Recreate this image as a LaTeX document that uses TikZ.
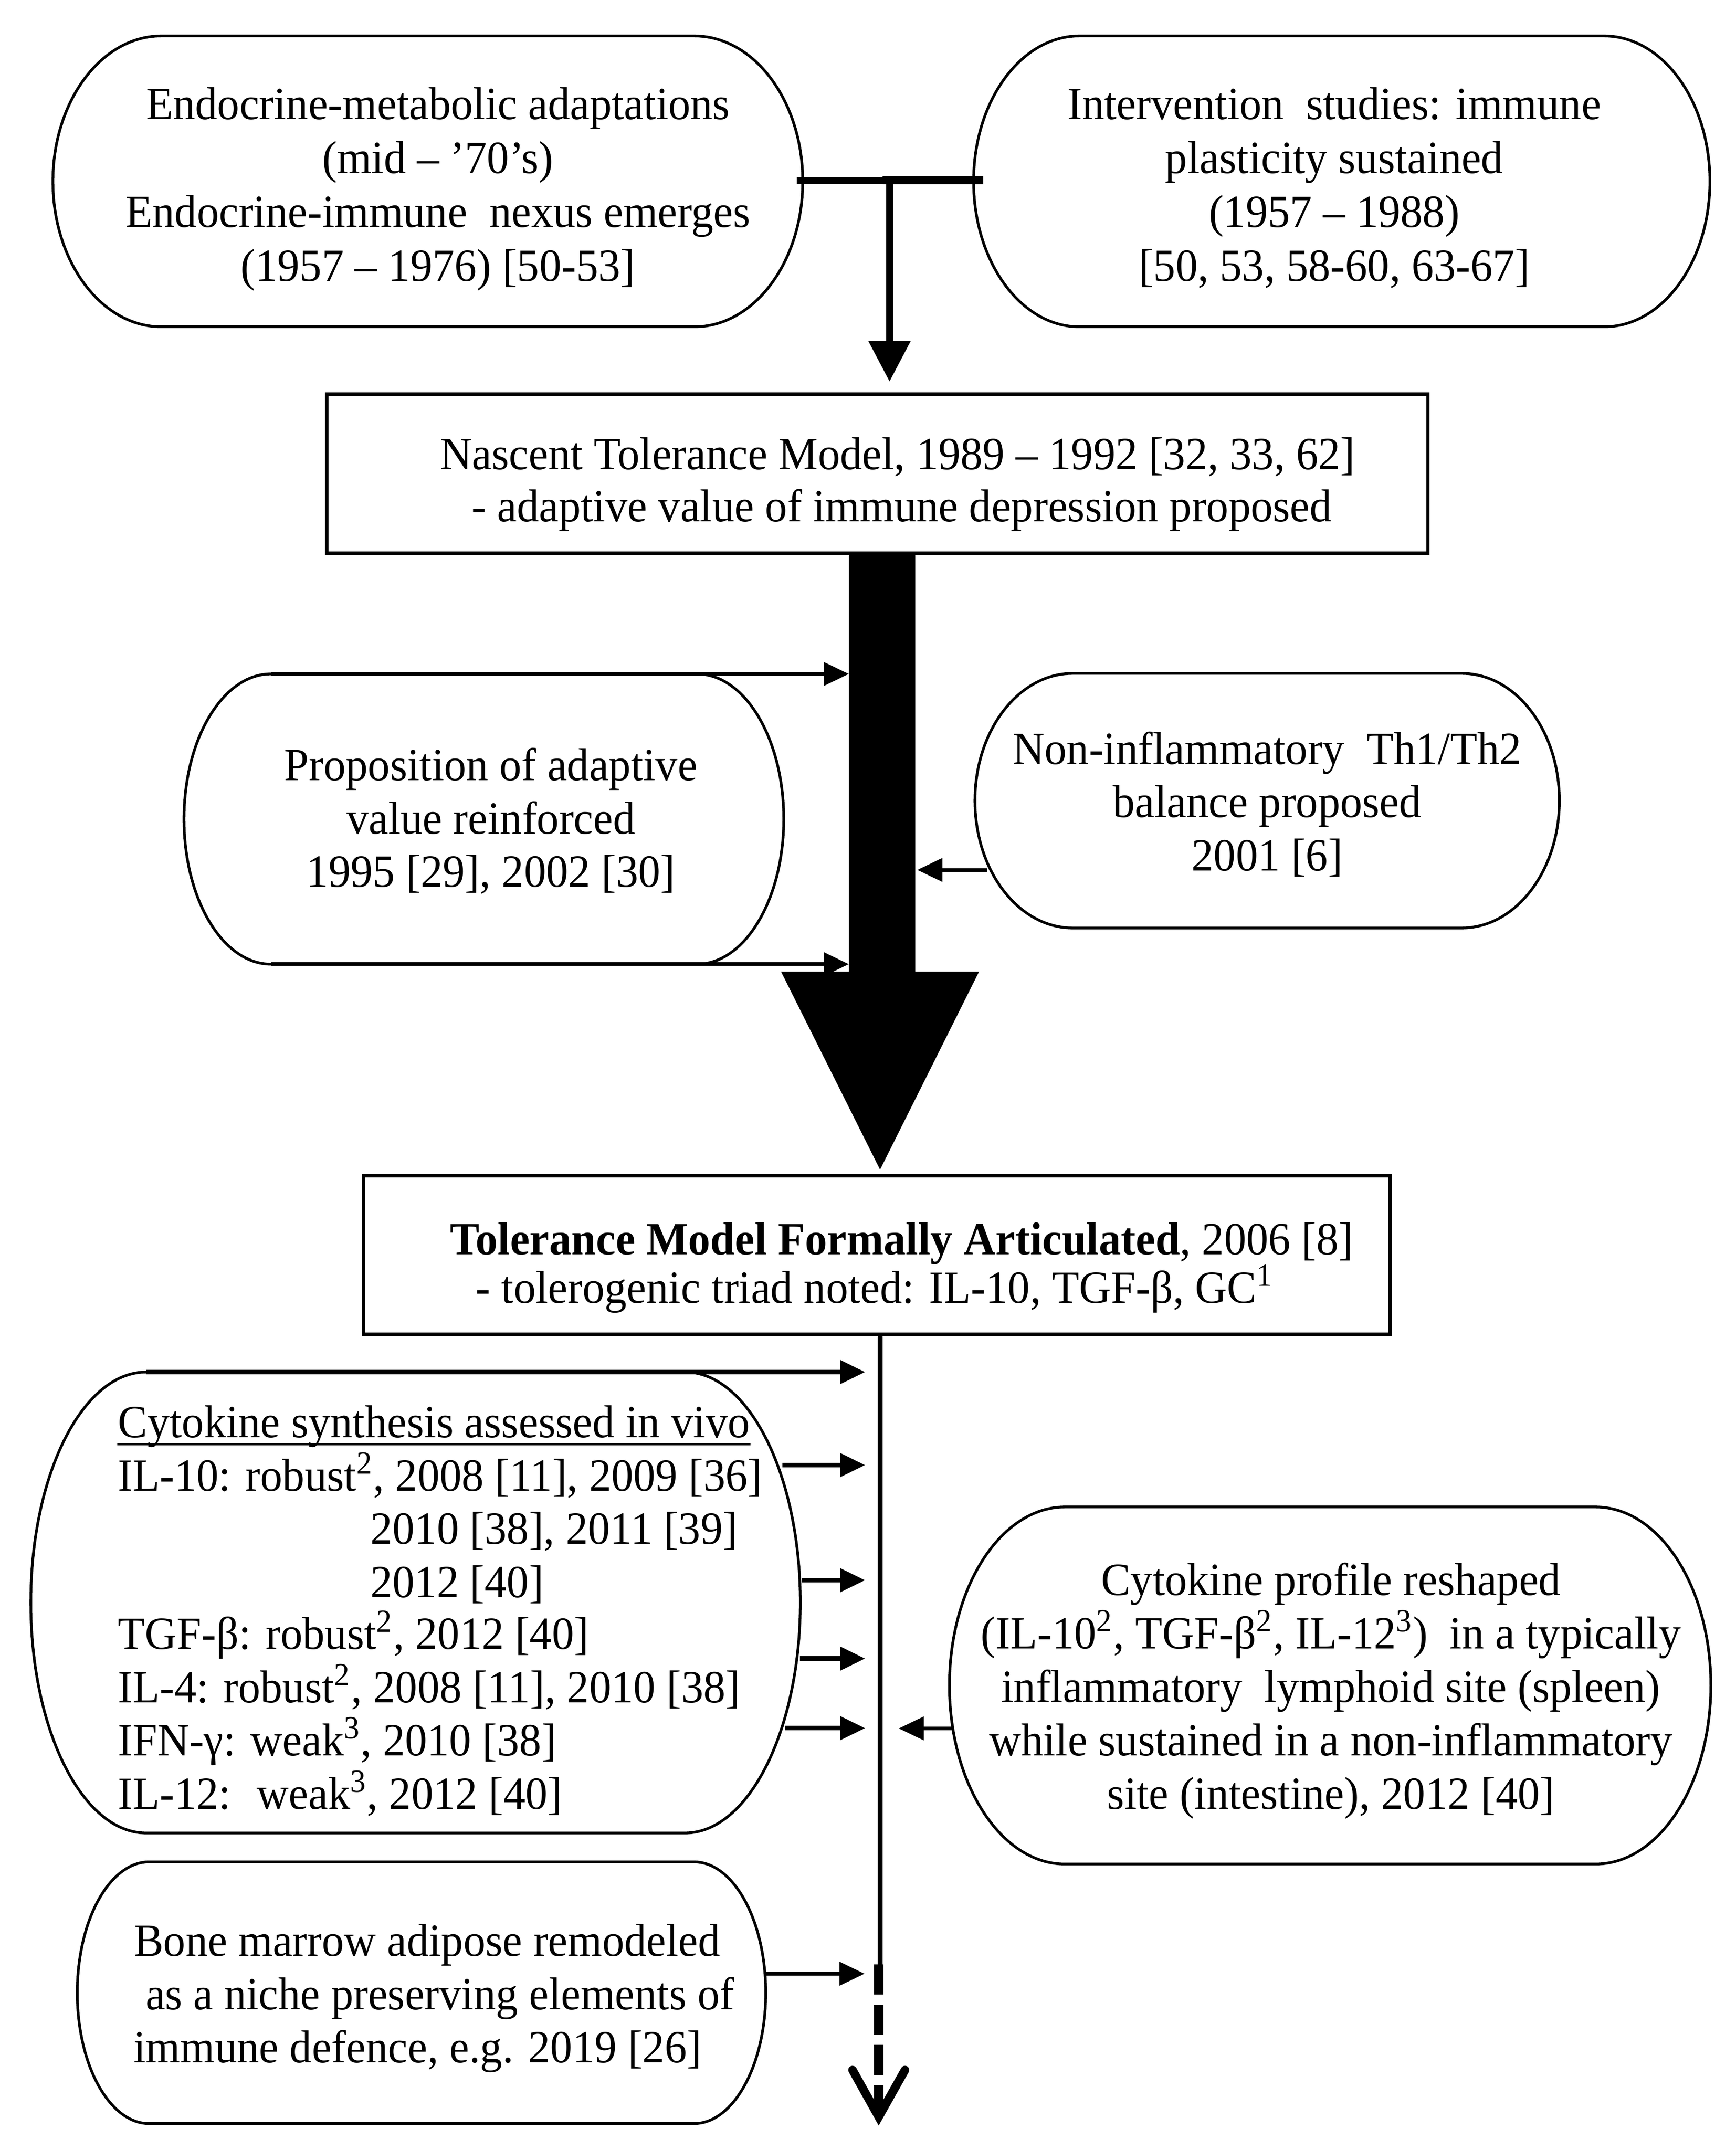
\documentclass[tikz,border=0pt]{standalone}
\usepackage{fontspec}
\setmainfont{Liberation Serif}[FakeStretch=0.96]
\usetikzlibrary{arrows.meta}
\newcommand\fs{\fontsize{17}{19.65}\selectfont}
% barrel-shaped box: name, x0, y0, x1, y1, r
\newcommand\barrelshape[6]{%
  \pgfmathsetmacro\bxa{#2+#6}%
  \pgfmathsetmacro\bxb{#4-#6}%
  \pgfmathsetmacro\bry{(#5-#3)/2}%
  \draw[boxline] (\bxa,#3) -- (\bxb,#3)
     arc[start angle=-90, end angle=90, x radius=#6, y radius=\bry]
     -- (\bxa,#5)
     arc[start angle=90, end angle=270, x radius=#6, y radius=\bry] -- cycle;
  \coordinate (#1-tl) at (\bxa,#3);
  \coordinate (#1-bl) at (\bxa,#5);
}
\tikzset{
  boxline/.style={line width=1pt},
  rectbox/.style={draw, line width=1.25pt, inner sep=0pt},
  txt/.style={anchor=base, inner sep=0pt, font=\fs},
  ltxt/.style={anchor=base west, inner sep=0pt, font=\fs},
  thinarrow/.style={line width=1.3pt, -{Triangle[length=9.25pt,width=8.5pt]}},
  cytarrow/.style={line width=1.7pt, -{Triangle[length=9.25pt,width=8.5pt]}},
}
\begin{document}
\begin{tikzpicture}[x=0.5pt, y=-0.5pt]
\fill[white] (0,0) rectangle (1280,1585.5);
\useasboundingbox (0,0) rectangle (1280,1585.5);

% ---------- top boxes ----------
\barrelshape{tl}{39}{26.5}{592}{241}{80}
\barrelshape{tr}{718}{26.5}{1261}{241}{78}
\node[txt] (tl1) at (323,88) {Endocrine-metabolic adaptations};
\node[txt] (tl2) at (323,127.8) {(mid – ’70’s)};
\node[txt] (tl3) at (323,167.6) {Endocrine-immune~ nexus emerges};
\node[txt] (tl4) at (323,207.4) {(1957 – 1976) [50-53]};
\node[txt] (tr1) at (984,88) {Intervention~ studies: immune};
\node[txt] (tr2) at (984,127.8) {plasticity sustained};
\node[txt] (tr3) at (984,167.6) {(1957 – 1988)};
\node[txt] (tr4) at (984,207.4) {[50, 53, 58-60, 63-67]};

% junction
\coordinate (jl) at (587.5,133);
\coordinate (jm) at (656,133);
\coordinate (jr) at (725,133);
\coordinate (nascin) at (656,281.4);
\draw[line width=2.5pt] (jl) -- (jm);
\draw[line width=3pt] ([xshift=-2.5pt]jm) -- (jr);
\draw[line width=2.4pt, -{Triangle[length=15pt,width=15pt]}] (jm) -- (nascin);

% ---------- nascent box ----------
\node[rectbox, minimum width=406pt, minimum height=58.7pt] (nascent) at (647,349.3) {};
\node[txt] (n1) at (662,346) {Nascent Tolerance Model, 1989 – 1992 [32, 33, 62]};
\node[txt] (n2) at (665,384.5) {- adaptive value of immune depression proposed};

% ---------- thick arrow ----------
\fill (626,408) -- (675,408) -- (675,716.5) -- (722,716.5) -- (649,862.5)
      -- (576,716.5) -- (626,716.5) -- cycle;
\coordinate (shaftA) at (626,497);
\coordinate (shaftB) at (626,711);
\coordinate (shaftC) at (676.5,641.5);

% ---------- proposition box ----------
\barrelshape{prop}{135.7}{497}{578}{711}{64}
\node[txt] (p1) at (362,575.5) {Proposition of adaptive};
\node[txt] (p2) at (362,614.8) {value reinforced};
\node[txt] (p3) at (362,654) {1995 [29], 2002 [30]};
\draw[thinarrow] (prop-tl) -- (shaftA);
\draw[thinarrow] (prop-bl) -- (shaftB);

% ---------- non-inflammatory box ----------
\barrelshape{noninf}{719}{496.6}{1150}{684.3}{72}
\node[txt] (ni1) at (934.5,563.5) {Non-inflammatory~ Th1/Th2};
\node[txt] (ni2) at (934.5,602.8) {balance proposed};
\node[txt] (ni3) at (934.5,642.1) {2001 [6]};
\coordinate (niout) at (728,641.5);
\draw[thinarrow] (niout) -- (shaftC);

% ---------- tolerance box ----------
\node[rectbox, minimum width=378.5pt, minimum height=58.5pt] (tol) at (646.5,925.5) {};
\node[txt] (t1) at (665,925) {\textbf{Tolerance Model Formally Articulated}, 2006 [8]};
\node[txt] (t2) at (645,961) {- tolerogenic triad noted: IL-10, TGF-β, GC\textsuperscript{1}};

% main line
\coordinate (tolout) at (649,984);
\coordinate (dashstart) at (649,1448.6);
\coordinate (dashA) at (648,1448.6);
\coordinate (dashB) at (648,1556);
\coordinate (vl) at (628.7,1526.5);
\coordinate (vtip) at (648,1561);
\coordinate (vr) at (667.4,1526.5);
\draw[line width=1.9pt] (tolout) -- (dashstart);
\draw[line width=3.5pt, dash pattern=on 11.1pt off 3.75pt] (dashA) -- (dashB);
\draw[line width=3.15pt, line cap=round, line join=miter] (vl) -- (vtip) -- (vr);

% ---------- cytokine synthesis box ----------
\barrelshape{cyt}{22.7}{1011.8}{590.2}{1351.7}{85}
\node[ltxt] (cythead) at (86.6,1060) {Cytokine synthesis assessed in vivo};
\draw[line width=0.75pt] ([yshift=-2.5pt]cythead.base west) -- ([yshift=-2.5pt]cythead.base east);
\node[ltxt] (c1) at (86.6,1099.3) {IL-10: robust\textsuperscript{2}, 2008 [11], 2009 [36]};
\node[ltxt] (c2) at (272.8,1138.7) {2010 [38], 2011 [39]};
\node[ltxt] (c3) at (272.8,1178) {2012 [40]};
\node[ltxt] (c4) at (86.6,1216) {TGF-β: robust\textsuperscript{2}, 2012 [40]};
\node[ltxt] (c5) at (86.6,1255.4) {IL-4: robust\textsuperscript{2}, 2008 [11], 2010 [38]};
\node[ltxt] (c6) at (86.6,1294.6) {IFN-γ: weak\textsuperscript{3}, 2010 [38]};
\node[ltxt] (c7) at (86.6,1334) {IL-12:~ weak\textsuperscript{3}, 2012 [40]};
\coordinate (ca2) at (577,1080.4);
\coordinate (ca3) at (591.4,1165.3);
\coordinate (ca4) at (590,1223.1);
\coordinate (ca5) at (579,1274.4);
\coordinate (la1) at (638,1011.8);
\coordinate (la2) at (638,1080.4);
\coordinate (la3) at (638,1165.3);
\coordinate (la4) at (638,1223.1);
\coordinate (la5) at (638,1274.4);
\draw[cytarrow] (cyt-tl) -- (la1);
\draw[cytarrow] (ca2) -- (la2);
\draw[cytarrow] (ca3) -- (la3);
\draw[cytarrow] (ca4) -- (la4);
\draw[cytarrow] (ca5) -- (la5);

% ---------- cytokine profile box ----------
\barrelshape{rcyt}{700.2}{1111.3}{1261.7}{1374.6}{85}
\node[txt] (r1) at (981.5,1176.4) {Cytokine profile reshaped};
\node[txt] (r2) at (981.5,1215.8) {(IL-10\textsuperscript{2}, TGF-β\textsuperscript{2}, IL-12\textsuperscript{3})~ in a typically};
\node[txt] (r3) at (981.5,1255.2) {inflammatory~ lymphoid site (spleen)};
\node[txt] (r4) at (981.5,1294.6) {while sustained in a non-inflammatory};
\node[txt] (r5) at (981.5,1334) {site (intestine), 2012 [40]};
\coordinate (rout) at (702,1274.6);
\coordinate (rin) at (662.8,1274.6);
\draw[thinarrow] (rout) -- (rin);

% ---------- bone marrow box ----------
\barrelshape{bone}{57}{1373}{564.7}{1566}{53}
\node[txt] (b1) at (315,1442.5) {Bone marrow adipose remodeled};
\node[txt] (b2) at (324.5,1481.8) {as a niche preserving elements of};
\node[txt] (b3) at (308,1521.1) {immune defence, e.g. 2019 [26]};
\coordinate (bout) at (564.7,1455.5);
\coordinate (bin) at (637.6,1455.5);
\draw[thinarrow] (bout) -- (bin);
\end{tikzpicture}
\end{document}
